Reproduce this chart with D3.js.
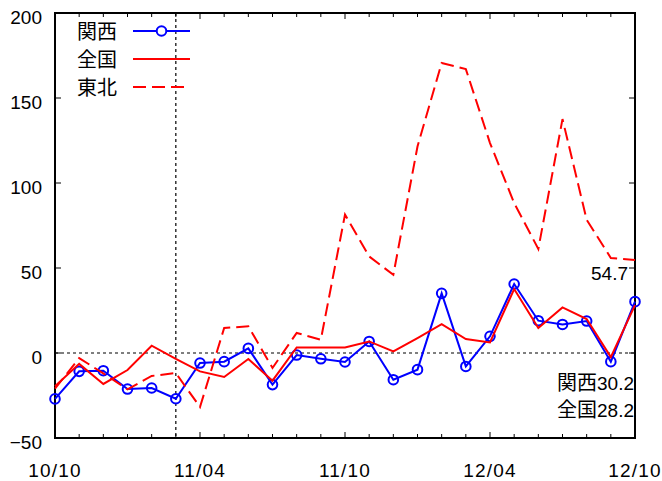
<!DOCTYPE html>
<html><head><meta charset="utf-8">
<script src="https://cdn.jsdelivr.net/npm/d3@7"></script>
<style>body{margin:0;background:#fff}svg{display:block}</style>
</head><body>
<svg id="c" width="662" height="481"></svg>
<script>
const months = ["10/10","10/11","10/12","11/01","11/02","11/03","11/04","11/05","11/06","11/07","11/08","11/09","11/10","11/11","11/12","12/01","12/02","12/03","12/04","12/05","12/06","12/07","12/08","12/09","12/10"];
const kansai = [-27,-10.8,-10.4,-21.2,-20.6,-26.9,-5.9,-5.1,2.7,-18.6,-1.2,-3.4,-5.3,6.8,-15.7,-9.8,35.1,-7.9,9.8,40.6,19,16.8,18.8,-5.1,30.2];
const zenkoku = [-19.5,-6.4,-18.2,-10,4.3,-3.5,-10.8,-14.1,-3.5,-16.3,3.3,3.3,3.3,6.8,0.9,8.8,17,8.2,6.2,37.6,14.7,26.8,20,-2.4,28.2];
const tohoku = [-21,-3,-12,-21.4,-13.5,-11.8,-31.8,14.7,15.7,-8.8,11.8,7.8,81.4,56.8,46,121.5,170.6,167,123.5,88.2,61.2,137.6,78.4,55.9,54.7];
const yTicks = [-50,0,50,100,150,200];
const xTickLabels = ["10/10","11/04","11/10","12/04","12/10"];
const seriesNames = ["関西","全国","東北"];
const markerMonth = "11/03";

const svg = d3.select("#c");
const L = 55, R = 635, T = 13, B = 438;
const x = d3.scalePoint().domain(months).range([L, R]);
const y = d3.scaleLinear().domain([-50, 200]).range([B, T]);
const font = "'Liberation Sans', 'Noto Sans CJK JP', sans-serif";
const cjk = "'Noto Sans CJK JP', sans-serif";

// reference lines
svg.append("line").attr("x1", L).attr("x2", R).attr("y1", y(0)).attr("y2", y(0))
  .attr("stroke", "#000").attr("stroke-width", 1.2).attr("stroke-dasharray", "3,3");
svg.append("line").attr("x1", x(markerMonth)).attr("x2", x(markerMonth)).attr("y1", T).attr("y2", B)
  .attr("stroke", "#000").attr("stroke-width", 1.2).attr("stroke-dasharray", "3,3");

// ticks (inward, all four sides)
const tk = svg.append("g").attr("stroke", "#000").attr("stroke-width", 1);
months.forEach((m, i) => {
  const major = xTickLabels.includes(m);
  const len = major ? 6 : 4;
  tk.append("line").attr("x1", x(m)).attr("x2", x(m)).attr("y1", B).attr("y2", B - len);
  tk.append("line").attr("x1", x(m)).attr("x2", x(m)).attr("y1", T).attr("y2", T + len);
});
yTicks.forEach(v => {
  tk.append("line").attr("x1", L).attr("x2", L + 6).attr("y1", y(v)).attr("y2", y(v));
  tk.append("line").attr("x1", R).attr("x2", R - 6).attr("y1", y(v)).attr("y2", y(v));
});

// frame
svg.append("rect").attr("x", L).attr("y", T).attr("width", R - L).attr("height", B - T)
  .attr("fill", "none").attr("stroke", "#000").attr("stroke-width", 2);

// axis labels
svg.append("g").selectAll("text").data(yTicks).join("text")
  .attr("x", 42).attr("y", d => y(d) + 4.5).attr("dy", "0.36em").attr("text-anchor", "end")
  .attr("font-family", font).attr("font-size", 19).attr("fill", "#000")
  .text(d => d < 0 ? "\u2212" + Math.abs(d) : d);
svg.append("g").selectAll("text").data(xTickLabels).join("text")
  .attr("x", d => x(d)).attr("y", 477).attr("text-anchor", "middle")
  .attr("font-family", font).attr("font-size", 19).attr("letter-spacing", 1.2).attr("fill", "#000").text(d => d);

// series
const line = d3.line().x((d, i) => x(months[i])).y(d => y(d));
svg.append("path").datum(kansai).attr("d", line).attr("fill", "none").attr("stroke", "#0000ff").attr("stroke-width", 2);
svg.append("g").selectAll("circle").data(kansai).join("circle")
  .attr("cx", (d, i) => x(months[i])).attr("cy", d => y(d)).attr("r", 4.8)
  .attr("fill", "none").attr("stroke", "#0000ff").attr("stroke-width", 2);
svg.append("path").datum(zenkoku).attr("d", line).attr("fill", "none").attr("stroke", "#ff0000").attr("stroke-width", 2);
svg.append("path").datum(tohoku).attr("d", line).attr("fill", "none").attr("stroke", "#ff0000").attr("stroke-width", 2)
  .attr("stroke-dasharray", "13,6");

// legend
const lg = svg.append("g");
const rows = [31, 59, 87];
seriesNames.forEach((n, i) => {
  lg.append("text").attr("x", 77).attr("y", rows[i] + 1).attr("dy", "0.36em")
    .attr("font-family", cjk).attr("font-size", 20).attr("fill", "#000").text(n);
  const l = lg.append("line").attr("x1", 133).attr("x2", 190).attr("y1", rows[i]).attr("y2", rows[i])
    .attr("stroke", i === 0 ? "#0000ff" : "#ff0000").attr("stroke-width", 2);
  if (i === 2) l.attr("stroke-dasharray", "13,6");
});
lg.append("circle").attr("cx", 161.5).attr("cy", rows[0]).attr("r", 4.8)
  .attr("fill", "#fff").attr("stroke", "#0000ff").attr("stroke-width", 2);

// end labels
const lastIdx = months.length - 1;
const ann = svg.append("g").attr("font-family", font).attr("font-size", 19).attr("fill", "#000").attr("text-anchor", "end");
ann.append("text").attr("x", 628).attr("y", 273).attr("dy", "0.36em").text(tohoku[lastIdx].toFixed(1));
function mixed(yy, name, val) {
  const t = ann.append("text").attr("x", 634).attr("y", yy).attr("dy", "0.36em");
  t.append("tspan").attr("font-family", cjk).attr("font-size", 20).text(name);
  t.append("tspan").text(val.toFixed(1));
}
mixed(383, seriesNames[0], kansai[lastIdx]);
mixed(410, seriesNames[1], zenkoku[lastIdx]);
</script>
</body></html>
